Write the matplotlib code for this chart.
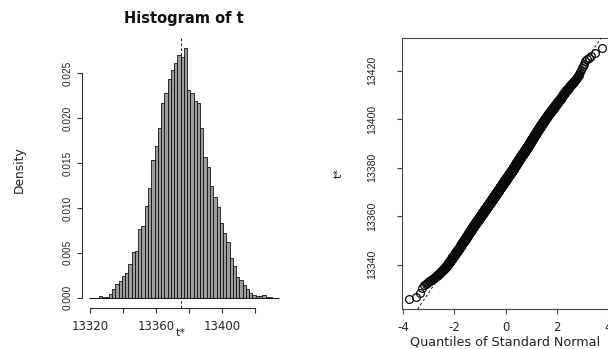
import numpy as np
import matplotlib
matplotlib.use("Agg")
import matplotlib.pyplot as plt
from statistics import NormalDist

# ---- bootstrap replicates of t, summarised as a density histogram ----
bin_start = 13319.5
bin_width = 1.98
density = [0.0, 0.0, 0.0, 0.0002, 0.0001, 0.0001, 0.0004, 0.0010, 0.0015, 0.0019,
           0.0024, 0.0027, 0.0038, 0.0051, 0.0052, 0.0077, 0.0080, 0.0102, 0.0122, 0.0153,
           0.0169, 0.0189, 0.0217, 0.0228, 0.0244, 0.0254, 0.0262, 0.0270, 0.0268, 0.0278,
           0.0231, 0.0228, 0.0219, 0.0217, 0.0189, 0.0157, 0.0146, 0.0124, 0.0112, 0.0101,
           0.0083, 0.0072, 0.0062, 0.0044, 0.0035, 0.0023, 0.0020, 0.0014, 0.0010, 0.0005,
           0.0003, 0.0002, 0.0002, 0.0003, 0.0001, 0.0001, 0.0, 0.0]
n_boot = 6000
t0 = 13375.0

hist_xticks = [13320, 13340, 13360, 13380, 13400, 13420]
hist_xticklabels = ["13320", "", "13360", "", "13400", ""]
hist_yticks = [0.000, 0.005, 0.010, 0.015, 0.020, 0.025]
hist_yticklabels = ["0.000", "0.005", "0.010", "0.015", "0.020", "0.025"]
qq_xticks = [-4, -2, 0, 2, 4]
qq_yticks = [13340, 13360, 13380, 13400, 13420]

title_text = "Histogram of t"
hist_xlabel = "t*"
hist_ylabel = "Density"
qq_xlabel = "Quantiles of Standard Normal"
qq_ylabel = "t*"

# ---- derived quantities ----
density = np.asarray(density)
edges = bin_start + bin_width * np.arange(len(density) + 1)
counts = np.rint(density / density.sum() * n_boot).astype(int)
# replicates within each bin, spread evenly across the bin (histogram model)
tstar = np.concatenate([
    edges[i] + (np.arange(c) + 0.5) / c * bin_width
    for i, c in enumerate(counts) if c > 0
])
n = tstar.size
pp = (np.arange(1, n + 1) - 0.5) / n
nd = NormalDist()
theo = np.array([nd.inv_cdf(p) for p in pp])
mu, sd = tstar.mean(), tstar.std(ddof=1)


def expand(lo, hi, f=0.04):
    d = (hi - lo) * f
    return lo - d, hi + d


plt.rcParams["axes.unicode_minus"] = False
plt.rcParams["font.family"] = ["DejaVu Sans"]

W, H = 608, 349
fig = plt.figure(figsize=(W / 100, H / 100), dpi=100)
fig.patch.set_facecolor("white")


def fx(px):
    return px / W


def fy(py):
    return 1 - py / H


txt = "#222222"
ylab_font = "Liberation Sans"

# ---- left: histogram ----
axh = fig.add_axes([fx(81.6), fy(307.7), fx(286.2) - fx(81.6), fy(38.3) - fy(307.7)])
axh.bar(edges[:-1], density, width=bin_width, align="edge",
        facecolor="#9c9c9c", edgecolor="#111111", linewidth=0.6, zorder=2)
axh.hlines(0, edges[0], edges[-1], color="#111111", linewidth=0.6, zorder=2)
axh.axvline(t0, color="#111111", linewidth=0.7, linestyle=(0, (2.5, 2.5)), zorder=3)
axh.set_xlim(*expand(edges[0], edges[-1]))
axh.set_ylim(*expand(0, density.max()))
for s in ["top", "right"]:
    axh.spines[s].set_visible(False)
axh.spines["left"].set_bounds(hist_yticks[0], hist_yticks[-1])
axh.spines["bottom"].set_bounds(hist_xticks[0], hist_xticks[-1])
for s in ["left", "bottom"]:
    axh.spines[s].set_linewidth(0.8)
    axh.spines[s].set_color("#333333")
axh.set_xticks(hist_xticks)
axh.set_xticklabels(hist_xticklabels)
axh.set_yticks(hist_yticks)
axh.set_yticklabels(hist_yticklabels)
axh.tick_params(axis="both", direction="out", length=3.6, width=0.8, color="#333333",
                labelcolor=txt)
axh.tick_params(axis="x", pad=5, labelsize=8.5)
axh.tick_params(axis="y", pad=3, labelsize=7.2, labelrotation=90)
for lab in axh.get_yticklabels():
    lab.set_family(ylab_font)
    lab.set_verticalalignment("center")

fig.text(fx(184), fy(19), title_text, ha="center", va="center",
         fontsize=10.5, fontweight="bold", color="#111111")
fig.text(fx(19), fy(170), hist_ylabel, ha="center", va="center",
         rotation=90, fontsize=8.8, color=txt)
fig.text(fx(181), fy(333), hist_xlabel, ha="center", va="center",
         fontsize=8, color=txt)

# ---- right: normal Q-Q plot ----
axq = fig.add_axes([fx(401.5), fy(309), fx(609.5) - fx(401.5), fy(38) - fy(309)])
axq.plot(theo, tstar, linestyle="none", marker="o", markersize=5.6,
         markerfacecolor="none", markeredgecolor="#0a0a0a", markeredgewidth=0.9, zorder=2)
axq.axline((0, mu), slope=sd, color="#111111", linewidth=0.7,
           linestyle=(0, (2.5, 2.5)), zorder=3)
axq.set_xlim(*expand(theo.min(), theo.max()))
axq.set_ylim(*expand(tstar.min(), tstar.max()))
for s in axq.spines.values():
    s.set_linewidth(0.8)
    s.set_color("#444444")
axq.set_xticks(qq_xticks)
axq.set_xticklabels([str(v) for v in qq_xticks])
axq.set_yticks(qq_yticks)
axq.set_yticklabels([str(v) for v in qq_yticks])
axq.tick_params(axis="both", direction="out", length=3.6, width=0.8, color="#444444",
                labelcolor=txt)
axq.tick_params(axis="x", pad=5, labelsize=8.5)
axq.tick_params(axis="y", pad=14, labelsize=7.6, labelrotation=90)
for lab in axq.get_yticklabels():
    lab.set_family(ylab_font)
    lab.set_verticalalignment("center")

fig.text(fx(339), fy(173), qq_ylabel, ha="center", va="center",
         rotation=90, fontsize=8, color=txt)
fig.text(fx(505), fy(348.6), qq_xlabel, ha="center", va="bottom",
         fontsize=9.2, color=txt)

fig.savefig("out.png", dpi=100, facecolor="white")
